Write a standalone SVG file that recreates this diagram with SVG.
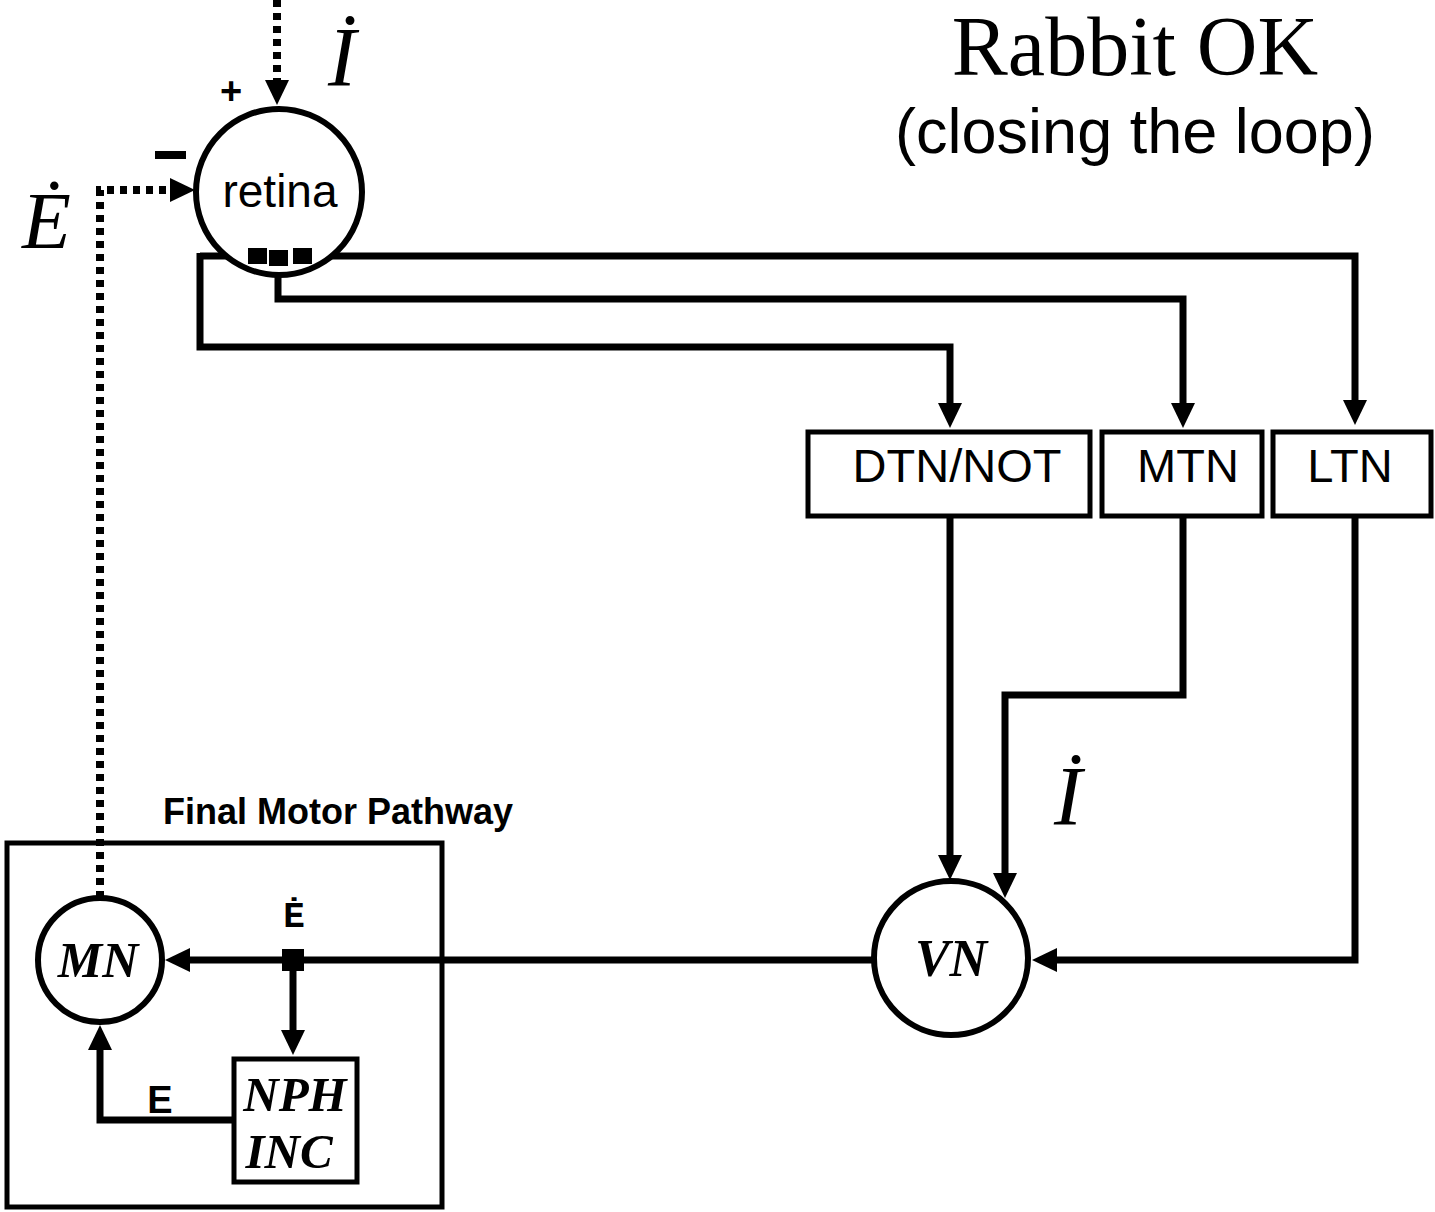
<svg xmlns="http://www.w3.org/2000/svg" width="1435" height="1212" viewBox="0 0 1435 1212">
<style>
.ln{fill:none;stroke:#000;stroke-width:7;stroke-linejoin:miter;stroke-linecap:butt}
.dot{fill:none;stroke:#000;stroke-width:8;stroke-dasharray:7 6}
.node{fill:#fff;stroke:#000;stroke-width:6}
.box{fill:#fff;stroke:#000;stroke-width:5}
.sans{font-family:"Liberation Sans",Arial,sans-serif}
.ser{font-family:"Liberation Serif","Times New Roman",serif}
.bi{font-family:"Liberation Serif","Times New Roman",serif;font-weight:bold;font-style:italic}
</style>
<defs>
<marker id="ah" markerUnits="userSpaceOnUse" markerWidth="26" markerHeight="26" refX="0" refY="12" orient="auto">
<path d="M0,0 L25,12 L0,24 z" fill="#000"/>
</marker>
</defs>
<g id="title">
<text class="ser" x="1135" y="75" font-size="84" text-anchor="middle">Rabbit OK</text>
<text class="sans" x="1135" y="153" font-size="63" text-anchor="middle">(closing the loop)</text>
</g>
<g id="connectors">
<path class="dot" d="M277,0 V80" marker-end="url(#ah)"/>
<path class="dot" d="M100,898 V190 H170" marker-end="url(#ah)"/>
<path class="ln" d="M200,256 H1355 V400" marker-end="url(#ah)"/>
<path class="ln" d="M200,253 V347 H950 V403" marker-end="url(#ah)"/>
<path class="ln" d="M278,262 V299 H1183 V403" marker-end="url(#ah)"/>
<path class="ln" d="M950,516 V855" marker-end="url(#ah)"/>
<path class="ln" d="M1183,516 V695 H1005 V873" marker-end="url(#ah)"/>
<path class="ln" d="M1355,516 V960 H1057" marker-end="url(#ah)"/>
<path class="ln" d="M873,960 H190" marker-end="url(#ah)"/>
<path class="ln" d="M293,960 V1030" marker-end="url(#ah)"/>
<path class="ln" d="M232,1120 H100 V1050" marker-end="url(#ah)"/>
</g>
<g id="retina">
<circle class="node" cx="279" cy="192" r="83"/>
<text class="sans" x="280" y="207" font-size="46" text-anchor="middle">retina</text>
<rect x="248" y="248" width="19" height="16" fill="#000"/>
<rect x="269" y="250" width="19" height="16" fill="#000"/>
<rect x="293" y="248" width="19" height="16" fill="#000"/>
</g>
<g id="labels">
<text class="ser" x="328" y="86" font-size="84" font-style="italic">İ</text>
<text class="ser" x="22" y="248" font-size="80" font-style="italic">Ė</text>
<text class="sans" x="231" y="104" font-size="38" font-weight="bold" text-anchor="middle">+</text>
<rect x="155" y="151" width="31" height="8" fill="#000"/>
<text class="ser" x="1054" y="825" font-size="84" font-style="italic">İ</text>
</g>
<g id="dtn">
<rect class="box" x="808" y="432" width="282" height="84"/>
<text class="sans" x="957" y="482" font-size="47" text-anchor="middle">DTN/NOT</text>
</g>
<g id="mtn">
<rect class="box" x="1102" y="432" width="160" height="84"/>
<text class="sans" x="1188" y="482" font-size="47" text-anchor="middle">MTN</text>
</g>
<g id="ltn">
<rect class="box" x="1273" y="432" width="158" height="84"/>
<text class="sans" x="1350" y="482" font-size="47" text-anchor="middle">LTN</text>
</g>
<g id="vn">
<circle class="node" cx="951" cy="958" r="77"/>
<text class="bi" x="951" y="976" font-size="52" text-anchor="middle">VN</text>
</g>
<g id="fmp">
<rect x="7" y="843" width="435" height="364" fill="none" stroke="#000" stroke-width="5"/>
<text class="sans" x="338" y="824" font-size="36" font-weight="bold" text-anchor="middle">Final Motor Pathway</text>
</g>
<g id="mn">
<circle class="node" cx="100" cy="960" r="62"/>
<text class="bi" x="98" y="977" font-size="50" text-anchor="middle">MN</text>
</g>
<g id="junction">
<rect x="282" y="949" width="22" height="22" fill="#000"/>
<text x="294" y="927" font-family="'Liberation Mono','Courier New',monospace" font-weight="bold" font-size="36" text-anchor="middle">Ė</text>
<text class="sans" x="160" y="1113" font-size="38" font-weight="bold" text-anchor="middle">E</text>
</g>
<g id="nph">
<rect class="box" x="234" y="1059" width="123" height="123"/>
<text class="bi" x="295" y="1111" font-size="49" text-anchor="middle">NPH</text>
<text class="bi" x="289" y="1168" font-size="49" text-anchor="middle">INC</text>
</g>
</svg>
